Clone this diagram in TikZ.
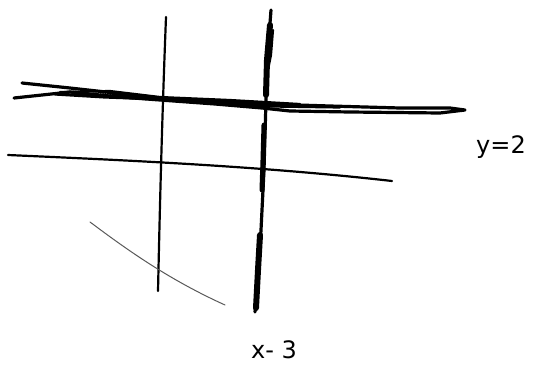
\documentclass[tikz,border=0pt]{standalone}
\usepackage{fontspec}
\setmainfont{DejaVu Sans}
\begin{document}
\begin{tikzpicture}[x=1pt,y=-1pt,line cap=round,line join=round,
  pen/.style={draw=black,line width=2.2},
  heavy/.style={draw=black,line width=3.2},
  lbl/.style={font=\fontsize{24}{24}\selectfont,inner sep=0pt}]
\useasboundingbox (0,0) rectangle (535,367);
% left vertical line
\draw[pen] (166,17) .. controls (162,120) and (160,200) .. (158,291);
% lower horizontal line
\draw[pen] (8,155) .. controls (120,160) and (260,166) .. (392,181);
% faint curve
\draw[draw=black!65,line width=1] (90,222) .. controls (130,252) and (170,280) .. (225,305);
% thick horizontal scribble
\draw[heavy] (22,83) -- (70,88) -- (115,93) -- (160,98) -- (215,101) -- (265,104) -- (330,106) -- (400,108) -- (450,108) -- (465,110) -- (440,113) -- (350,112) -- (290,111) -- (262,108) -- (215,104) -- (160,100) -- (120,97) -- (100,95) -- (70,92) -- (14,98);
\draw[heavy] (55,94) -- (105,97) -- (160,99) -- (210,102) -- (270,106) -- (340,107);
\draw[pen] (60,92) -- (110,91) -- (160,97) -- (230,100) -- (300,104);
% thick vertical scribble
\draw[heavy] (271,10) -- (268,50) -- (266,100) -- (264,170) -- (261,230) -- (258,280) -- (255,312);
\draw[line width=6] (270,25) -- (267,60) -- (266,95);
\draw[line width=5] (264,125) -- (263,160) -- (262,190);
\draw[line width=6] (260,235) -- (258,270) -- (256,308);
\draw[pen] (273,30) -- (271,55) -- (266,80);
% labels
\node[lbl] (y) at (501,147) {y=2};
\node[lbl] (x) at (274,350) {x- 3};
\end{tikzpicture}
\end{document}
